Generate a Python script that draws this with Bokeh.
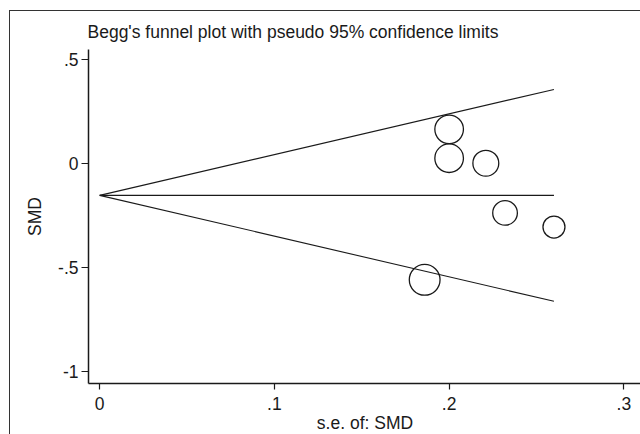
import numpy as np
from bokeh.plotting import figure
from bokeh.models import Range1d, FixedTicker
from bokeh.embed import file_html
from bokeh.resources import INLINE

# ---- data ----
se = [0.200, 0.200, 0.221, 0.232, 0.260, 0.186]
smd = [0.165, 0.026, 0.002, -0.237, -0.305, -0.559]
x_ticks = [0, 0.1, 0.2, 0.3]
x_tick_labels = ["0", ".1", ".2", ".3"]
y_ticks = [-1, -0.5, 0, 0.5]
y_tick_labels = ["-1", "-.5", "0", ".5"]
title_text = "Begg's funnel plot with pseudo 95% confidence limits"
x_title = "s.e. of: SMD"
y_title = "SMD"

se_a = np.array(se)
smd_a = np.array(smd)
w = 1.0 / se_a ** 2
pooled = float(np.sum(w * smd_a) / np.sum(w))
max_se = float(se_a.max())

FONT = "Liberation Sans"
FS = "17.5px"
INK = "#1a1a1a"

p = figure(width=631, height=424, output_backend="svg", toolbar_location=None,
           x_range=Range1d(-0.00641, 0.3101), y_range=Range1d(-1.0576, 0.549),
           min_border_left=78, min_border_right=0, min_border_top=38, min_border_bottom=51,
           styles={"margin-left": "9px", "margin-top": "10px",
                   "border-left": "1px solid #333333", "border-top": "1px solid #333333"})
p.outline_line_color = None
p.grid.visible = False
p.background_fill_color = "white"
p.border_fill_color = "white"

p.title.text = title_text
p.title.align = "left"
p.title.text_font = FONT
p.title.text_font_size = FS
p.title.text_font_style = "normal"
p.title.text_color = INK
p.title.standoff = 16
p.title.offset = -1

for ax, ticks, labels in ((p.xaxis, x_ticks, x_tick_labels), (p.yaxis, y_ticks, y_tick_labels)):
    ax.ticker = FixedTicker(ticks=ticks)
    ax.major_label_overrides = {t: l for t, l in zip(ticks, labels)}
    ax.minor_tick_line_color = None
    ax.axis_line_color = INK
    ax.axis_line_width = 1.5
    ax.major_tick_line_color = INK
    ax.major_tick_line_width = 1.2
    ax.major_tick_in = 0
    ax.major_label_text_font = FONT
    ax.major_label_text_font_size = FS
    ax.major_label_text_color = INK
    ax.axis_label_text_font = FONT
    ax.axis_label_text_font_size = FS
    ax.axis_label_text_font_style = "normal"
    ax.axis_label_text_color = INK

p.xaxis.major_tick_out = 6
p.xaxis.major_label_standoff = 7
p.xaxis.axis_label = x_title
p.xaxis.axis_label_standoff = 0
p.yaxis.major_tick_out = 7
p.yaxis.major_label_standoff = 3
p.yaxis.major_label_orientation = "horizontal"
p.yaxis.axis_label = y_title
p.yaxis.axis_label_standoff = 10

# funnel: pooled estimate and pseudo 95% limits
p.line([0, max_se], [pooled, pooled], line_color=INK, line_width=1.1)
p.line([0, max_se], [pooled, pooled + 1.96 * max_se], line_color=INK, line_width=1.1)
p.line([0, max_se], [pooled, pooled - 1.96 * max_se], line_color=INK, line_width=1.1)

# studies, symbol size proportional to 1/se
p.scatter(se, smd, size=5.72 / se_a, marker="circle", fill_color=None,
          line_color=INK, line_width=1.3)

open("out.html", "w").write(file_html(p, INLINE))
